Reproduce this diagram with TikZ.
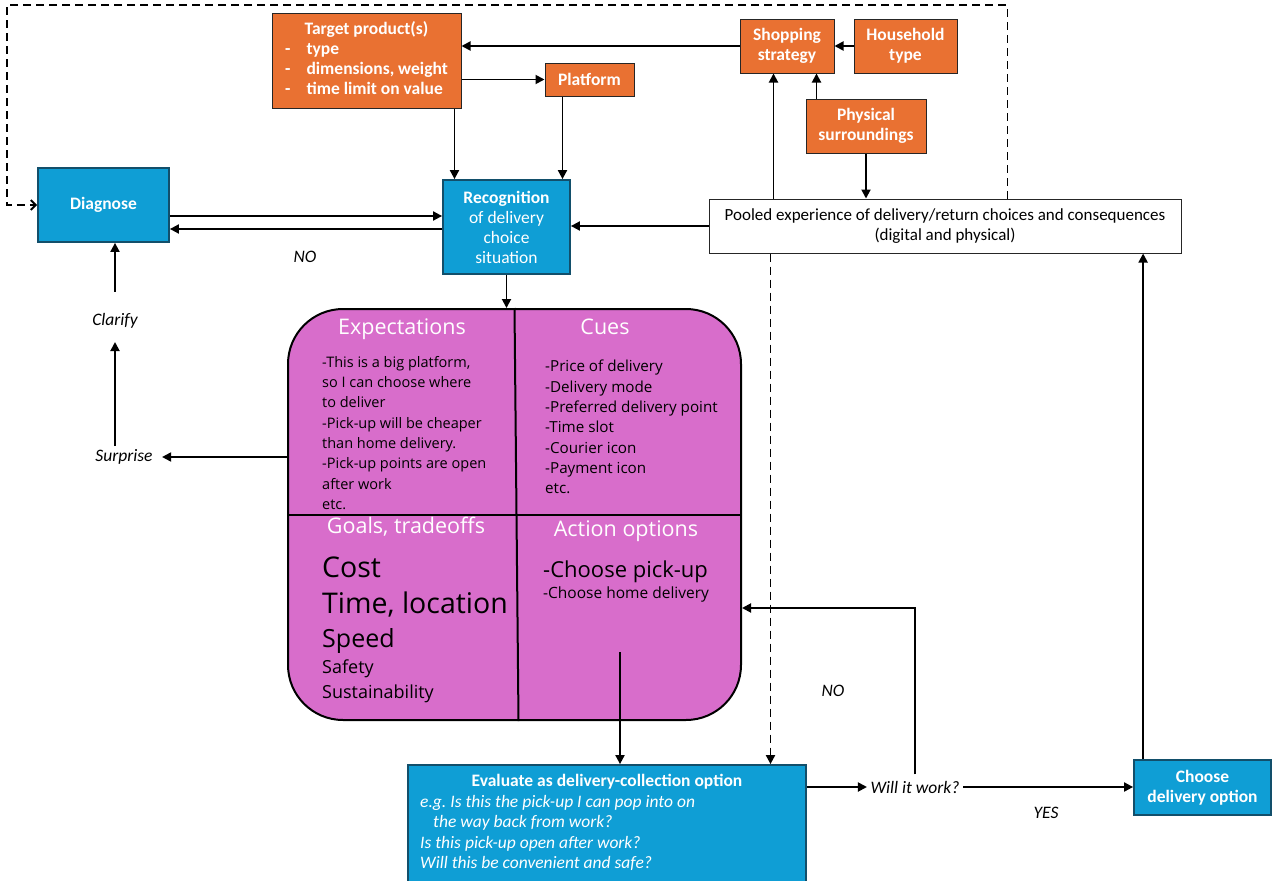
\documentclass[tikz,border=0pt]{standalone}
\usepackage{fontspec}
\setmainfont{Carlito}
\newfontfamily\bodyfont{Open Sans}
\usetikzlibrary{arrows.meta,positioning}

\definecolor{prodorange}{HTML}{E97132}
\definecolor{stepblue}{HTML}{0F9ED5}
\definecolor{stepedge}{HTML}{124F6B}
\definecolor{framepink}{HTML}{D86DCB}

\tikzset{
  arr/.style={line width=1.9pt,-{Triangle[length=9pt,width=9pt]}},
  dasharr/.style={arr,dash pattern=on 8pt off 5pt},
  feedback/.style={line width=1.9pt,dash pattern=on 8pt off 5pt,
    -{Straight Barb[length=5pt,width=10pt]}},
  factor/.style={draw=black!85,line width=1pt,fill=prodorange,text=white,
    font=\fontsize{17.5}{20}\selectfont\bfseries,align=center,inner sep=0pt},
  stepbox/.style={draw=stepedge,line width=1.8pt,fill=stepblue,text=white,
    font=\fontsize{17.5}{20}\selectfont,align=center,inner sep=0pt},
  cornerhead/.style={text=white,anchor=base,inner sep=0pt,
    font=\bodyfont\fontsize{21.5}{24}\selectfont},
  cornertext/.style={anchor=north west,align=left,inner sep=0pt,
    font=\bodyfont\fontsize{#1}{20.3}\selectfont},
  goal/.style={anchor=base west,inner sep=0pt,
    font=\bodyfont\fontsize{#1}{#1}\selectfont},
  answer/.style={font=\fontsize{17.5}{20}\selectfont\itshape},
}

\begin{document}
\begin{tikzpicture}[x=1pt,y=-1pt]
  \useasboundingbox (0,0) rectangle (1272,881);

  % Einflussfaktoren
  \node[factor,minimum width=189pt,minimum height=95pt] (tgt) at (366.5,60.5)
    {\begin{tabular}{@{}l@{\hspace{16pt}}l@{}}
       \multicolumn{2}{c}{Target product(s)}\\
       - & type\\
       - & dimensions, weight\\
       - & time limit on value
     \end{tabular}};
  \node[factor,minimum width=89pt,minimum height=33pt] (plat) at (589.5,79.5)
    {Platform};
  \node[factor,minimum width=94pt,minimum height=54pt] (shop) at (787,46)
    {Shopping\\strategy};
  \node[factor,minimum width=103pt,minimum height=54pt] (house) at (905.5,46)
    {Household\\type};
  \node[factor,minimum width=120pt,minimum height=54pt] (phys) at (866,126)
    {Physical\\surroundings};

  % Erfahrung
  \node[draw=black!85,line width=1pt,fill=white,minimum width=472pt,
    minimum height=54pt,align=center,inner sep=0pt,
    font=\fontsize{17}{20}\selectfont] (pool) at (945,226)
    {Pooled experience of delivery/return choices and consequences\\
     (digital and physical)};

  % Schritte
  \node[stepbox,minimum width=131pt,minimum height=74pt] (diag) at (103.5,205)
    {\bfseries Diagnose};
  \node[stepbox,minimum width=127pt,minimum height=94pt] (rec) at (506.5,227)
    {{\bfseries Recognition}\\of delivery\\choice\\situation};
  \node[stepbox,minimum width=137pt,minimum height=55pt,
    font=\fontsize{17.5}{20}\selectfont\bfseries] (choose) at (1202.5,787.5)
    {Choose\\delivery option};

  % Situationsrahmen
  \node[draw=black,line width=2pt,fill=framepink,rounded corners=55pt,
    minimum width=453pt,minimum height=411pt] (frame) at (514.5,514.5) {};
  \draw[line width=2pt] (frame.north) -- ([xshift=4pt]frame.south);
  \draw[line width=2pt] (frame.west) -- (frame.east);

  \node[cornerhead] (exphead) at (402,334) {Expectations};
  \node[cornertext=14.5] (explist) at (322,356)
    {-This is a big platform,\\so I can choose where\\to deliver\\
     -Pick-up will be cheaper\\than home delivery.\\
     -Pick-up points are open\\after work\\etc.};
  \node[cornerhead] (cuehead) at (605,334) {Cues};
  \node[cornertext=15.2] (cuelist) at (545,360)
    {-Price of delivery\\-Delivery mode\\-Preferred delivery point\\
     -Time slot\\-Courier icon\\-Payment icon\\etc.};
  \node[cornerhead] (goalhead) at (406,533) {Goals, tradeoffs};
  \node[goal=28.5] (cost) at (322,577) {Cost};
  \node[goal=28.5] (time) at (322,613) {Time, location};
  \node[goal=25] (speed) at (322,647) {Speed};
  \node[goal=18] (safety) at (322,673) {Safety};
  \node[goal=18] (sustain) at (322,698) {Sustainability};
  \node[cornerhead] (acthead) at (626,536) {Action options};
  \node[goal=22] (pickup) at (543,577) {-Choose pick-up};
  \node[goal=15.5] (home) at (543,598) {-Choose home delivery};
  \coordinate (actend) at (620,652);

  % Bewertung
  \node[stepbox,minimum width=398pt,minimum height=118pt] (eval) at (607,824) {};
  \node[text=white,anchor=base,inner sep=0pt,
    font=\fontsize{17.5}{20}\selectfont\bfseries] (evalhead) at (607,786)
    {Evaluate as delivery-collection option};
  \node[text=white,anchor=north west,align=left,inner sep=0pt,
    font=\fontsize{17.5}{20.5}\selectfont\itshape] (evallist) at (420,795)
    {e.g.\ Is this the pick-up I can pop into on\\
     \hspace*{13pt}the way back from work?\\
     Is this pick-up open after work?\\
     Will this be convenient and safe?};

  % Beschriftungen
  \node[answer] (no1) at (305,257) {NO};
  \node[answer] (clarify) at (115,321) {Clarify};
  \node[answer] (surprise) at (124,457) {Surprise};
  \node[answer] (work) at (915,787) {Will it work?};
  \node[answer] (no2) at (833,691) {NO};
  \node[answer] (yes) at (1046,813) {YES};

  % Pfeile oben
  \draw[arr] (shop.west) -- (tgt.east |- shop.west);
  \draw[arr] (tgt.east |- plat.west) -- (plat.west);
  \draw[arr] (house.west) -- (shop.east);
  \draw[arr] ([xshift=11pt]phys.north west) -- ([xshift=11pt]phys.north west |- shop.south);
  \draw[arr] (phys.south) -- (phys.south |- pool.north);
  \draw[arr] ([xshift=65pt]pool.north west) -- ([xshift=65pt]pool.north west |- shop.south);
  \draw[arr] ([xshift=-7pt]tgt.south east) -- ([xshift=-7pt]tgt.south east |- rec.north);
  \draw[arr] ([xshift=18pt]plat.south west) -- ([xshift=18pt]plat.south west |- rec.north);

  % Rueckkopplung
  \coordinate (loop) at (7,5);
  \draw[feedback] ([xshift=299pt]pool.north west) |- (loop) |- (diag.west);

  % Pfeile Mitte
  \draw[arr] ([yshift=-11pt]diag.east) -- ([yshift=-11pt]diag.east -| rec.west);
  \draw[arr] ([yshift=-24pt]diag.east -| rec.west) -- ([yshift=-24pt]diag.east);
  \draw[arr] (pool.west) -- (pool.west -| rec.east);
  \draw[arr] (rec.south) -- (rec.south |- frame.north);
  \draw[arr,shorten <=18pt] (clarify.north) -- (clarify.north |- diag.south);
  \draw[arr,shorten >=10pt] (surprise.north -| clarify) -- (clarify.south);
  \draw[arr,shorten >=6pt] (frame.west |- surprise) -- (surprise.east);

  % Pfeile unten
  \draw[arr] (actend) -- (actend |- eval.north);
  \draw[dasharr] ([xshift=62pt]pool.south west) -- ([xshift=62pt]pool.south west |- eval.north);
  \draw[arr] (eval.east |- work) -- (work.west);
  \draw[arr,shorten <=3pt] (work.north) |- ([yshift=-93.5pt]frame.east);
  \draw[arr] (work.east) -- (choose.west |- work);
  \draw[arr] ([xshift=10pt]choose.north west) -- ([xshift=10pt]choose.north west |- pool.south);

\end{tikzpicture}
\end{document}
